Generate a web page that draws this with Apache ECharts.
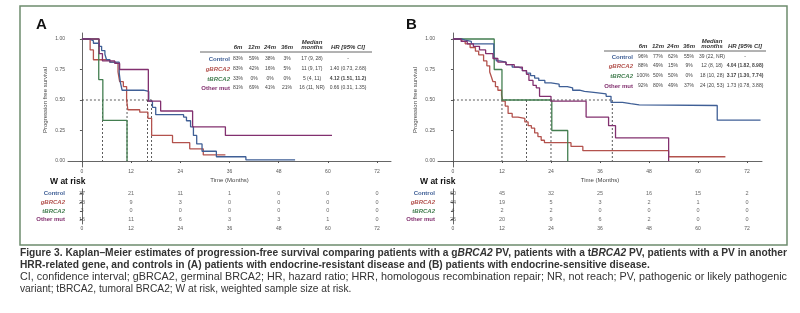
<!DOCTYPE html>
<html lang="en">
<head>
<meta charset="UTF-8">
<title>Figure 3</title>
<script src="https://cdn.jsdelivr.net/npm/echarts@6/dist/echarts.min.js"></script>
<style>
  html, body { margin: 0; padding: 0; background: #fff; }
  #main { width: 800px; height: 313px; }
</style>
</head>
<body>
<div id="main"></div>
<script>
// ---- data ----
var groups = ['Control', 'gBRCA2', 'tBRCA2', 'Other mut']
var colors = ['#3f5f96', '#b3524d', '#437e50', '#82306f']
var timeTicks = [0, 12, 24, 36, 48, 60, 72]
var survTicks = [0, 0.25, 0.5, 0.75, 1]

// panel A: endocrine-resistant  [month, survival]
var ctrlA = [[0,1],[1.9,0.985],[2.8,0.965],[4.2,0.94],[4.8,0.905],[5.6,0.875],[6,0.83],[6.8,0.81],[9.1,0.72],[9.4,0.64],[9.8,0.58],[15,0.57],[16.3,0.49],[17.2,0.44],[18,0.38],[24.8,0.36],[25.5,0.33],[26.5,0.28],[27.2,0.21],[28,0.14],[29.3,0.08],[32.8,0.035],[40,0.01],[52,0.01]]
var gA = [[0,1],[2,0.91],[2.8,0.83],[6.8,0.81],[8,0.8],[8.8,0.73],[9.2,0.65],[10.1,0.61],[10.9,0.5],[11.2,0.42],[14.1,0.4],[16.1,0.35],[17,0.21],[22.1,0.15],[26.3,0.1],[29.6,0.05],[35,0.05]]
var tA = [[0,1],[4.1,0.667],[5.1,0.333],[11,0]]
var otherA = [[0,1],[4.2,0.88],[5,0.82],[8,0.8],[9.2,0.75],[16.2,0.49],[19.2,0.41],[27,0.28],[35,0.21],[61,0.21]]
var mediansA = [5, 11, 16, 17]
var riskA = [[37,21,11,1,0,0,0],[23,9,3,0,0,0,0],[3,0,0,0,0,0,0],[16,11,6,3,3,1,0]]
var statsA = [
  ['83%','59%','38%','3%','17 (9, 28)','-'],
  ['83%','42%','16%','5%','11 (9, 17)','1.40 (0.73, 2.68)'],
  ['33%','0%','0%','0%','5 (4, 11)','4.12 (1.51, 11.2)'],
  ['81%','69%','41%','21%','16 (11, NR)','0.66 (0.31, 1.35)']
]
var hrBoldA = [false, false, true, false]

// panel B: endocrine-sensitive
var ctrlB = [[0,1],[2,0.99],[3,0.98],[4.5,0.96],[10,0.84],[10.6,0.82],[11.5,0.81],[13,0.79],[14.5,0.77],[16,0.76],[17,0.74],[18,0.72],[19,0.7],[20,0.68],[21,0.66],[22.5,0.64],[24,0.63],[26,0.61],[28,0.6],[29.3,0.58],[31,0.57],[32.2,0.56],[35,0.55],[37.5,0.53],[38.7,0.48],[41.5,0.47],[43.5,0.46],[45.6,0.455],[64.7,0.335],[75.3,0.335]]
var gB = [[0,1],[2.2,0.98],[3,0.96],[4.2,0.93],[5.5,0.9],[6.3,0.87],[7.5,0.82],[8.3,0.78],[9,0.73],[9.4,0.69],[9.8,0.65],[10.4,0.61],[11,0.58],[11.9,0.54],[12.2,0.49],[12.8,0.45],[13.5,0.39],[14.5,0.36],[15.9,0.35],[17.6,0.32],[18.4,0.29],[19.2,0.27],[20,0.23],[20.8,0.2],[21.6,0.17],[22.4,0.15],[28.9,0.12],[31.8,0.085],[52.8,0.035],[66.7,0.035]]
var tB = [[0,1],[10.1,0.75],[12,0.5],[24.2,0.25],[28.1,0]]
var otherB = [[0,1],[2,0.98],[3.5,0.96],[5,0.94],[6.5,0.91],[8,0.88],[9.8,0.84],[11,0.81],[13,0.79],[15,0.77],[17,0.74],[18,0.71],[18.6,0.66],[19.6,0.62],[20.4,0.6],[21.2,0.53],[24,0.49],[32.6,0.36],[38.1,0.29],[39.8,0.19],[52.8,0]]
var mediansB = [12, 18, 24, 39]
var riskB = [[60,45,32,25,16,15,2],[44,19,5,3,2,1,0],[4,2,2,0,0,0,0],[26,20,9,6,2,0,0]]
var statsB = [
  ['96%','77%','62%','55%','39 (22, NR)','-'],
  ['88%','49%','15%','9%','12 (8, 18)','4.04 (1.82, 8.98)'],
  ['100%','50%','50%','0%','18 (10, 28)','3.17 (1.30, 7.74)'],
  ['92%','80%','49%','37%','24 (20, 53)','1.73 (0.78, 3.88)']
]
var hrBoldB = [false, true, true, false]

var statHeads = ['6m', '12m', '24m', '36m', 'Median', 'HR [95% CI]']

// caption pieces: [style, text]
var caption = [
  [['f', 'Figure 3.'], ['b', ' Kaplan\u2013Meier estimates of progression-free survival comparing patients with a g'], ['bi', 'BRCA2'], ['b', ' PV, patients with a t'], ['bi', 'BRCA2'], ['b', ' PV, patients with a PV in another']],
  [['b', 'HRR-related gene, and controls in (A) patients with endocrine-resistant disease and (B) patients with endocrine-sensitive disease.']],
  [['r', 'CI, confidence interval; gBRCA2, germinal BRCA2; HR, hazard ratio; HRR, homologous recombination repair; NR, not reach; PV, pathogenic or likely pathogenic']],
  [['r', 'variant; tBRCA2, tumoral BRCA2; W at risk, weighted sample size at risk.']]
]

// ---- layout ----
var FONT = 'Liberation Sans, Arial, sans-serif'
var panels = [
  { letter: 'A', curves: [ctrlA, gA, tA, otherA], medians: mediansA, risk: riskA, stats: statsA, hrBold: hrBoldA,
    left: 68, width: 323, xMin: -3.4, xMax: 75.4,
    tab: { labelRight: 230, cols: [238, 254, 270, 287, 312, 348], head: 47, rows: [59, 69, 79, 88], rule: [200, 372, 52] } },
  { letter: 'B', curves: [ctrlB, gB, tB, otherB], medians: mediansB, risk: riskB, stats: statsB, hrBold: hrBoldB,
    left: 438, width: 324, xMin: -3.66, xMax: 75.66,
    tab: { labelRight: 633, cols: [643, 658, 673, 689, 712, 745], head: 46, rows: [57, 66, 76, 86], rule: [604, 766, 51] } }
]

var axisGrey = '#555'
var grids = [], xAxes = [], yAxes = [], series = [], graphics = []

function labelRich() {
  var r = {}
  groups.forEach(function (g, i) {
    r['c' + i] = { color: colors[i], fontWeight: 'bold', fontStyle: (i === 1 || i === 2) ? 'italic' : 'normal', fontSize: 6, fontFamily: FONT }
  })
  return r
}

function txt(x, y, text, o) {
  o = o || {}
  graphics.push({
    type: 'text', x: x, y: y, silent: true, scaleX: o.scaleX || 1,
    style: {
      text: text, fill: o.color || '#333', align: o.align || 'left', verticalAlign: 'middle',
      fontSize: o.size || 6, fontWeight: o.weight || 'normal', fontStyle: o.style || 'normal',
      fontFamily: o.family || FONT, rich: o.rich
    }
  })
}

panels.forEach(function (p, k) {
  var plotIdx = k * 2, riskIdx = k * 2 + 1
  grids.push({ left: p.left, top: 33, width: p.width, height: 134 })
  grids.push({ left: p.left, top: 189, width: p.width, height: 35 })

  var xBase = {
    type: 'value', min: p.xMin, max: p.xMax, splitLine: { show: false },
    axisLine: { lineStyle: { color: axisGrey, width: 0.9 } },
    axisTick: { customValues: timeTicks, length: 2, lineStyle: { color: axisGrey } },
    axisLabel: { customValues: timeTicks, fontSize: 5, color: '#555', margin: 2, fontFamily: FONT }
  }
  xAxes.push(Object.assign({}, xBase, { gridIndex: plotIdx, name: 'Time (Months)', nameLocation: 'middle', nameGap: 10,
    nameTextStyle: { fontSize: 6, color: '#444', fontFamily: FONT } }))
  xAxes.push(Object.assign({}, xBase, { gridIndex: riskIdx }))

  yAxes.push({
    type: 'value', gridIndex: plotIdx, min: -0.049, max: 1.049, splitLine: { show: false },
    axisLine: { show: true, lineStyle: { color: axisGrey, width: 0.9 } },
    axisTick: { show: true, customValues: survTicks, length: 2, lineStyle: { color: axisGrey } },
    axisLabel: { customValues: survTicks, fontSize: 5, color: '#555', margin: 3, fontFamily: FONT,
      formatter: function (v) { return v.toFixed(2) } },
    name: 'Progression free survival', nameLocation: 'middle', nameRotate: 90, nameGap: 20,
    nameTextStyle: { fontSize: 6, color: '#444', fontFamily: FONT }
  })
  yAxes.push({
    type: 'category', gridIndex: riskIdx, data: groups, inverse: true,
    axisLine: { show: true, lineStyle: { color: axisGrey, width: 0.9 } },
    axisTick: { show: true, alignWithLabel: true, interval: 0, length: 2, lineStyle: { color: axisGrey } },
    axisLabel: { interval: 0, margin: 3, formatter: function (v) { return '{c' + groups.indexOf(v) + '|' + v + '}' }, rich: labelRich() }
  })

  // median guides
  var maxMed = Math.max.apply(null, p.medians)
  var guides = [[[0, 0.5], [maxMed, 0.5]]].concat(p.medians.map(function (m) { return [[m, 0.5], [m, 0]] }))
  guides.forEach(function (seg) {
    series.push({ type: 'line', xAxisIndex: plotIdx, yAxisIndex: plotIdx, data: seg, showSymbol: false, silent: true,
      lineStyle: { color: '#333', width: 0.8, type: [2, 2] }, z: 1 })
  })

  // KM curves
  p.curves.forEach(function (c, i) {
    series.push({ type: 'line', name: groups[i], xAxisIndex: plotIdx, yAxisIndex: plotIdx, data: c, step: 'end',
      showSymbol: false, silent: true, lineStyle: { color: colors[i], width: 1.3 }, z: 2 + (i === 0 ? 3 : i) })
  })

  // risk numbers
  var pts = []
  p.risk.forEach(function (row, i) {
    row.forEach(function (n, j) { pts.push([timeTicks[j], groups[i], n]) })
  })
  series.push({ type: 'scatter', xAxisIndex: riskIdx, yAxisIndex: riskIdx, data: pts, symbolSize: 1, silent: true,
    itemStyle: { color: 'transparent' },
    label: { show: true, position: 'inside', fontSize: 5.5, color: '#444', fontFamily: FONT,
      formatter: function (q) { return String(q.value[2]) } } })

  // panel letter, risk title
  txt(p.left - 32, 25, p.letter, { size: 15, weight: 'bold', color: '#111' })
  txt(p.left - 18, 182, 'W at risk', { size: 8.5, weight: 'bold', color: '#111' })

  // stats table
  var t = p.tab
  statHeads.forEach(function (h, j) {
    if (h === 'Median') {
      txt(t.cols[j], t.head - 5, 'Median', { align: 'center', weight: 'bold', style: 'italic' })
      txt(t.cols[j], t.head, 'months', { align: 'center', weight: 'bold', style: 'italic' })
    } else {
      txt(t.cols[j], t.head, h, { align: 'center', weight: 'bold', style: 'italic' })
    }
  })
  graphics.push({ type: 'line', silent: true, shape: { x1: t.rule[0], y1: t.rule[2], x2: t.rule[1], y2: t.rule[2] },
    style: { stroke: '#555', lineWidth: 0.9 } })
  p.stats.forEach(function (row, i) {
    txt(t.labelRight, t.rows[i], groups[i], { align: 'right', weight: 'bold', color: colors[i],
      style: (i === 1 || i === 2) ? 'italic' : 'normal' })
    row.forEach(function (v, j) {
      var bold = j === 5 && p.hrBold[i]
      txt(t.cols[j], t.rows[i], v, { align: 'center', size: 5, weight: bold ? 'bold' : 'normal', color: '#444' })
    })
  })
})

// frame
graphics.push({ type: 'rect', silent: true, shape: { x: 20, y: 6, width: 767, height: 239 },
  style: { fill: 'none', stroke: '#6e8c6e', lineWidth: 1.5 } })

// caption, condensed horizontally to the frame width
var CAP_SIZE = 10.5
var capStyles = {
  f: { color: '#2f8a72', fontWeight: 'bold', fontStyle: 'normal' },
  b: { color: '#222', fontWeight: 'bold', fontStyle: 'normal' },
  bi: { color: '#222', fontWeight: 'bold', fontStyle: 'italic' },
  r: { color: '#333', fontWeight: 'normal', fontStyle: 'normal' }
}
var capRich = {}
Object.keys(capStyles).forEach(function (k) {
  capRich[k] = Object.assign({ fontSize: CAP_SIZE, fontFamily: FONT }, capStyles[k])
})
var mctx = document.createElement('canvas').getContext('2d')
function capWidth(line) {
  var w = 0
  line.forEach(function (seg) {
    var s = capStyles[seg[0]]
    mctx.font = s.fontStyle + ' ' + s.fontWeight + ' ' + CAP_SIZE + 'px ' + FONT
    w += mctx.measureText(seg[1]).width
  })
  return w
}
var capScale = 767 / capWidth(caption[0])
caption.forEach(function (line, i) {
  var str = line.map(function (seg) { return '{' + seg[0] + '|' + seg[1] + '}' }).join('')
  var sc = i === 2 ? 767 / capWidth(line) : capScale
  txt(20, 253 + i * 12, str, { rich: capRich, scaleX: sc })
})

var myChart = echarts.init(document.getElementById('main'))
myChart.setOption({
  animation: false,
  grid: grids,
  xAxis: xAxes,
  yAxis: yAxes,
  series: series,
  graphic: graphics
})
</script>
</body>
</html>
